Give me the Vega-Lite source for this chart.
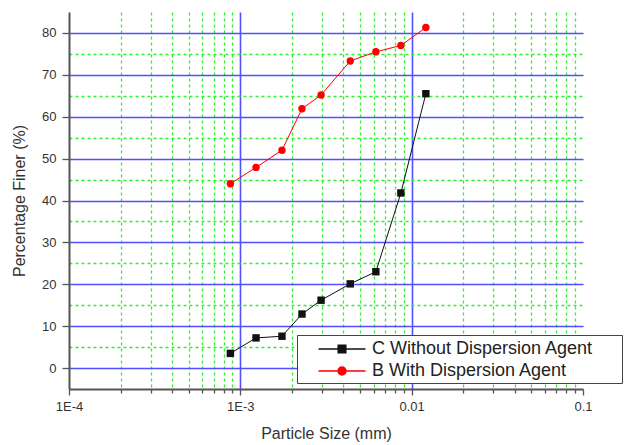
{
  "$schema": "https://vega.github.io/schema/vega-lite/v6.json",
  "width": 514,
  "height": 377,
  "autosize": "none",
  "padding": {"left": 69, "top": 12, "right": 46, "bottom": 56},
  "background": "white",
  "config": {
    "view": {"stroke": null},
    "font": "Liberation Sans"
  },
  "data": {
    "values": [
      {"size": 0.000875, "finer": 3.5, "series": "C Without Dispersion Agent"},
      {"size": 0.001235, "finer": 7.2, "series": "C Without Dispersion Agent"},
      {"size": 0.00175, "finer": 7.6, "series": "C Without Dispersion Agent"},
      {"size": 0.00229, "finer": 12.9, "series": "C Without Dispersion Agent"},
      {"size": 0.00296, "finer": 16.2, "series": "C Without Dispersion Agent"},
      {"size": 0.00438, "finer": 20.1, "series": "C Without Dispersion Agent"},
      {"size": 0.00618, "finer": 23.0, "series": "C Without Dispersion Agent"},
      {"size": 0.00865, "finer": 41.8, "series": "C Without Dispersion Agent"},
      {"size": 0.0121, "finer": 65.5, "series": "C Without Dispersion Agent"},
      {"size": 0.000875, "finer": 44.0, "series": "B With Dispersion Agent"},
      {"size": 0.001235, "finer": 47.9, "series": "B With Dispersion Agent"},
      {"size": 0.00175, "finer": 52.0, "series": "B With Dispersion Agent"},
      {"size": 0.00229, "finer": 61.9, "series": "B With Dispersion Agent"},
      {"size": 0.00296, "finer": 65.2, "series": "B With Dispersion Agent"},
      {"size": 0.00438, "finer": 73.3, "series": "B With Dispersion Agent"},
      {"size": 0.00618, "finer": 75.5, "series": "B With Dispersion Agent"},
      {"size": 0.00865, "finer": 77.0, "series": "B With Dispersion Agent"},
      {"size": 0.0121, "finer": 81.3, "series": "B With Dispersion Agent"}
    ]
  },
  "encoding": {
    "x": {
      "field": "size",
      "type": "quantitative",
      "scale": {"type": "log", "domain": [0.0001, 0.1], "nice": false},
      "axis": {
        "title": "Particle Size (mm)",
        "values": [0.0001, 0.0002, 0.0003, 0.0004, 0.0005, 0.0006, 0.0007, 0.0008, 0.0009, 0.001, 0.002, 0.003, 0.004, 0.005, 0.006, 0.007, 0.008, 0.009, 0.01, 0.02, 0.03, 0.04, 0.05, 0.06, 0.07, 0.08, 0.09, 0.1],
        "labelExpr": "abs(log(datum.value)/LN10 - round(log(datum.value)/LN10)) < 0.001 ? (datum.value < 0.0005 ? '1E-4' : datum.value < 0.005 ? '1E-3' : datum.value < 0.05 ? '0.01' : '0.1') : ''",
        "labelOverlap": false,
        "labelFlush": false,
        "labelFontSize": 13,
        "labelColor": "#333333",
        "labelPadding": 5,
        "grid": true,
        "gridColor": {"condition": [{"test": "datum.value > 0.095 || datum.value < 0.000105", "value": "transparent"}, {"test": "abs(log(datum.value)/LN10 - round(log(datum.value)/LN10)) < 0.001", "value": "#5050ff"}], "value": "#2ef02e"},
        "gridDash": {"condition": {"test": "abs(log(datum.value)/LN10 - round(log(datum.value)/LN10)) < 0.001", "value": []}, "value": [3, 3]},
        "gridWidth": {"condition": {"test": "abs(log(datum.value)/LN10 - round(log(datum.value)/LN10)) < 0.001", "value": 1.6}, "value": 1.3},
        "tickSize": {"condition": {"test": "abs(log(datum.value)/LN10 - round(log(datum.value)/LN10)) < 0.001", "value": 6}, "value": 4},
        "tickColor": "#555555",
        "tickWidth": 1.3,
        "domainColor": "#555555",
        "domainWidth": 2,
        "titleFontSize": 16,
        "titleFontWeight": "normal",
        "titleColor": "#333333",
        "titlePadding": 12
      }
    },
    "y": {
      "field": "finer",
      "type": "quantitative",
      "scale": {"domain": [-5, 85], "nice": false, "zero": false},
      "axis": {
        "title": "Percentage Finer (%)",
        "values": [0, 5, 10, 15, 20, 25, 30, 35, 40, 45, 50, 55, 60, 65, 70, 75, 80],
        "labelExpr": "datum.value % 10 == 0 ? datum.label : ''",
        "labelOverlap": false,
        "labelFlush": false,
        "labelFontSize": 13,
        "labelColor": "#333333",
        "labelPadding": 6,
        "grid": true,
        "gridColor": {"condition": {"test": "datum.value % 10 == 0", "value": "#5050ff"}, "value": "#2ef02e"},
        "gridDash": {"condition": {"test": "datum.value % 10 == 0", "value": []}, "value": [3, 3]},
        "gridWidth": {"condition": {"test": "datum.value % 10 == 0", "value": 1.6}, "value": 1.3},
        "tickColor": {"condition": {"test": "datum.value % 10 == 0", "value": "#555555"}, "value": "transparent"},
        "tickSize": 7,
        "tickWidth": 1.3,
        "domainColor": "#555555",
        "domainWidth": 2,
        "titleFontSize": 16,
        "titleFontWeight": "normal",
        "titleColor": "#333333",
        "titlePadding": 14
      }
    },
    "color": {
      "field": "series",
      "type": "nominal",
      "scale": {"domain": ["C Without Dispersion Agent", "B With Dispersion Agent"], "range": ["#111111", "#ff0000"]},
      "legend": {
        "title": null,
        "orient": "none",
        "legendX": 228,
        "legendY": 323,
        "fillColor": "white",
        "strokeColor": "#444444",
        "padding": 3,
        "symbolSize": 400,
        "symbolOffset": 31,
        "labelOffset": 19,
        "labelFontSize": 18,
        "labelColor": "#222222",
        "labelFont": "Liberation Sans",
        "labelLimit": 400,
        "rowPadding": 2,
        "encode": {
          "symbols": {
            "update": {
              "shape": {"signal": "datum.value === 'C Without Dispersion Agent' ? 'M-2.35,0H2.35M-0.38,-0.38H0.38V0.38H-0.38ZM27.4,0' : 'M-2.35,0H2.35M0.4,0A0.4,0.4,0,1,1,-0.4,0A0.4,0.4,0,1,1,0.4,0ZM27.4,0'"},
              "fill": {"signal": "datum.value === 'C Without Dispersion Agent' ? '#000000' : '#ff0000'"},
              "stroke": {"signal": "datum.value === 'C Without Dispersion Agent' ? '#111111' : '#ff0000'"}
            }
          }
        }
      }
    }
  },
  "layer": [
    {
      "mark": {"type": "line", "strokeWidth": 1}
    },
    {
      "transform": [{"filter": "datum.series === 'C Without Dispersion Agent'"}],
      "mark": {"type": "point", "shape": "square", "filled": true, "opacity": 1, "size": 55, "color": "#000000"}
    },
    {
      "transform": [{"filter": "datum.series === 'B With Dispersion Agent'"}],
      "mark": {"type": "point", "shape": "circle", "filled": true, "opacity": 1, "size": 55, "color": "#ff0000"}
    }
  ]
}
